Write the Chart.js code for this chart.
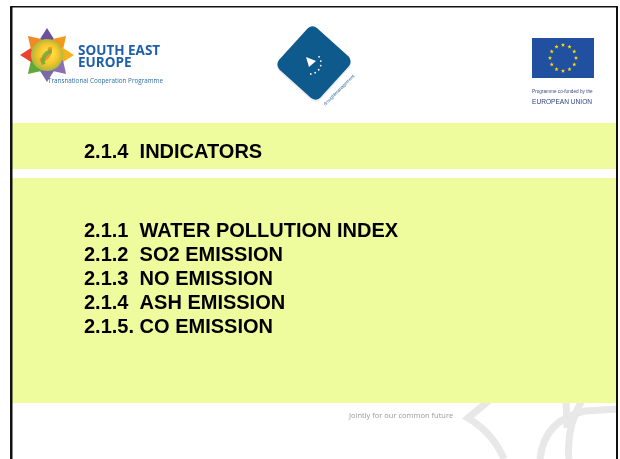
<!DOCTYPE html>
<html>
<head>
<meta charset="utf-8">
<script src="https://cdn.jsdelivr.net/npm/chart.js@4/dist/chart.umd.min.js"></script>
<style>
  html, body { margin: 0; padding: 0; background: #fff; }
  #slide { display: block; }
</style>
</head>
<body>
<canvas id="slide" width="620" height="459"></canvas>
<script>
// slide content
const headingCode = '2.1.4';
const headingText = 'INDICATORS';
const itemCodes = ['2.1.1', '2.1.2', '2.1.3', '2.1.4', '2.1.5.'];
const itemNames = ['WATER POLLUTION INDEX', 'SO2 EMISSION', 'NO EMISSION', 'ASH EMISSION', 'CO EMISSION'];
const logoLines = ['SOUTH EAST', 'EUROPE'];
const logoSub = 'Transnational Cooperation Programme';
const euLines = ['Programme co-funded by the', 'EUROPEAN UNION'];
const footerText = 'Jointly for our common future';

const itemLabels = itemCodes.map((c, i) => c + (c.endsWith('.') ? ' ' : '  ') + itemNames[i]);

const YELLOW = 'rgb(239,252,158)';
const ARIAL = "'Liberation Sans', Arial, sans-serif";

function drawFlower(ctx, cx, cy) {
  // 8 pointed star made of fat petals
  const cols = ['#6d4f9c', '#f39a1e', '#f6b21c', '#8b6fb0', '#7c6aa8', '#5fa83a', '#e8452c', '#f08a24'];
  const R = 27, r = 17;
  for (let k = 0; k < 8; k++) {
    const a = -Math.PI / 2 + k * Math.PI / 4;
    ctx.beginPath();
    ctx.moveTo(cx + Math.cos(a - 0.45) * r, cy + Math.sin(a - 0.45) * r);
    ctx.lineTo(cx + Math.cos(a) * R, cy + Math.sin(a) * R);
    ctx.lineTo(cx + Math.cos(a + 0.45) * r, cy + Math.sin(a + 0.45) * r);
    ctx.lineTo(cx, cy);
    ctx.closePath();
    ctx.fillStyle = cols[k];
    ctx.fill();
  }
  const g = ctx.createRadialGradient(cx + 3, cy - 2, 2, cx, cy, 17);
  g.addColorStop(0, '#ffe34a');
  g.addColorStop(0.55, '#f7c32a');
  g.addColorStop(1, '#9ab843');
  ctx.beginPath();
  ctx.arc(cx, cy, 16, 0, Math.PI * 2);
  ctx.fillStyle = g;
  ctx.fill();
  ctx.strokeStyle = 'rgba(240,140,30,0.85)';
  ctx.lineWidth = 4;
  ctx.beginPath();
  ctx.arc(cx - 7, cy - 5, 10, -0.3, 1.6);
  ctx.stroke();
  ctx.strokeStyle = 'rgba(110,170,60,0.85)';
  ctx.beginPath();
  ctx.arc(cx + 6, cy + 6, 10, 2.8, 4.6);
  ctx.stroke();
}

function drawDiamond(ctx, cx, cy) {
  ctx.save();
  ctx.translate(cx, cy);
  ctx.rotate(Math.PI / 4 - 0.05);
  const s = 56, rad = 7;
  ctx.fillStyle = '#e9eef2';
  ctx.beginPath();
  ctx.roundRect(-s / 2 + 1.5, -s / 2 + 1.5, s, s, rad);
  ctx.fill();
  ctx.fillStyle = '#0e5a8c';
  ctx.beginPath();
  ctx.roundRect(-s / 2, -s / 2, s, s, rad);
  ctx.fill();
  ctx.restore();
  // white mark
  ctx.fillStyle = '#fff';
  ctx.beginPath();
  ctx.moveTo(cx - 8, cy - 6);
  ctx.lineTo(cx + 2, cy - 2);
  ctx.lineTo(cx - 5, cy + 4);
  ctx.closePath();
  ctx.fill();
  for (let k = 0; k < 6; k++) {
    const a = -0.6 + k * 0.42;
    ctx.beginPath();
    ctx.arc(cx - 4 + Math.cos(a) * 11, cy + Math.sin(a) * 11, 0.9, 0, Math.PI * 2);
    ctx.fill();
  }
  ctx.save();
  ctx.translate(cx + 26, cy + 28);
  ctx.rotate(-Math.PI / 4);
  ctx.fillStyle = '#2a6a98';
  ctx.font = '4.5px ' + ARIAL;
  ctx.textAlign = 'center';
  ctx.fillText('droughtmanagement', 0, 0);
  ctx.restore();
}

function drawStar(ctx, x, y, r) {
  ctx.beginPath();
  for (let k = 0; k < 10; k++) {
    const a = -Math.PI / 2 + k * Math.PI / 5;
    const rr = k % 2 ? r * 0.42 : r;
    ctx.lineTo(x + Math.cos(a) * rr, y + Math.sin(a) * rr);
  }
  ctx.closePath();
  ctx.fill();
}

const slidePlugin = {
  id: 'slide',
  beforeDraw(chart) {
    const ctx = chart.ctx;
    ctx.save();
    ctx.fillStyle = '#fff';
    ctx.fillRect(0, 0, chart.width, chart.height);

    // watermark bottom right
    ctx.strokeStyle = '#e8e8e8';
    ctx.lineWidth = 7;
    ctx.beginPath();
    ctx.moveTo(492, 398);
    ctx.lineTo(468, 418);
    ctx.quadraticCurveTo(493, 433, 504, 459);
    ctx.stroke();
    ctx.beginPath();
    ctx.moveTo(540, 459);
    ctx.quadraticCurveTo(544, 420, 585, 411);
    ctx.lineTo(618, 409);
    ctx.stroke();
    ctx.beginPath();
    ctx.moveTo(582, 400);
    ctx.quadraticCurveTo(566, 428, 569, 459);
    ctx.stroke();
    ctx.beginPath();
    ctx.moveTo(566, 400);
    ctx.lineTo(567, 428);
    ctx.stroke();

    // yellow bands
    ctx.fillStyle = YELLOW;
    ctx.fillRect(12, 123, 604, 46);
    ctx.fillRect(12, 178, 604, 225);

    // border
    ctx.fillStyle = '#111';
    ctx.fillRect(10, 6, 607, 1.5);
    ctx.fillRect(10, 6, 2.5, 453);
    ctx.fillRect(616, 6, 2, 453);

    // SEE logo
    drawFlower(ctx, 47, 55);
    ctx.fillStyle = '#1f5fa8';
    ctx.font = "bold 13.5px 'Open Sans', sans-serif";
    ctx.textBaseline = 'alphabetic';
    ctx.fillText(logoLines[0], 78, 55);
    ctx.fillText(logoLines[1], 78, 67);
    ctx.fillStyle = '#2f6f9e';
    ctx.font = "6.3px 'Open Sans', sans-serif";
    ctx.fillText(logoSub, 48, 83);

    drawDiamond(ctx, 314, 63);

    // EU flag
    ctx.fillStyle = '#2150a0';
    ctx.fillRect(532, 38, 62, 40);
    ctx.fillStyle = '#ffdd00';
    for (let k = 0; k < 12; k++) {
      const a = k * Math.PI / 6;
      drawStar(ctx, 563 + Math.cos(a) * 13, 58 + Math.sin(a) * 13, 2.2);
    }
    ctx.fillStyle = '#3b4a7e';
    ctx.font = '4.7px ' + ARIAL;
    ctx.fillText(euLines[0], 532, 93);
    ctx.fillStyle = '#2c3f7c';
    ctx.font = '6.6px ' + ARIAL;
    ctx.fillText(euLines[1], 532, 104);

    // footer
    ctx.fillStyle = '#9a9a9a';
    ctx.font = "7.5px 'Open Sans', sans-serif";
    ctx.fillText(footerText, 349, 418);
    ctx.restore();
  }
};

new Chart(document.getElementById('slide'), {
  type: 'bar',
  data: {
    labels: itemLabels,
    datasets: [{ data: [], backgroundColor: 'transparent' }]
  },
  options: {
    indexAxis: 'y',
    responsive: false,
    animation: false,
    events: [],
    layout: { padding: { top: 130, left: 84, right: 20, bottom: 119 } },
    plugins: {
      legend: { display: false },
      tooltip: { enabled: false },
      title: {
        display: true,
        text: headingCode + '  ' + headingText,
        align: 'start',
        color: '#000',
        font: { family: ARIAL, size: 20, weight: 'bold' },
        padding: { top: 10, bottom: 55 }
      }
    },
    scales: {
      x: { display: false, min: 0, max: 1 },
      y: {
        grid: { display: false },
        border: { display: false },
        afterFit(scale) { scale.width = 340; },
        ticks: {
          color: '#000',
          autoSkip: false,
          crossAlign: 'far',
          font: { family: ARIAL, size: 20, weight: 'bold' }
        }
      }
    }
  },
  plugins: [slidePlugin]
});
</script>
</body>
</html>
